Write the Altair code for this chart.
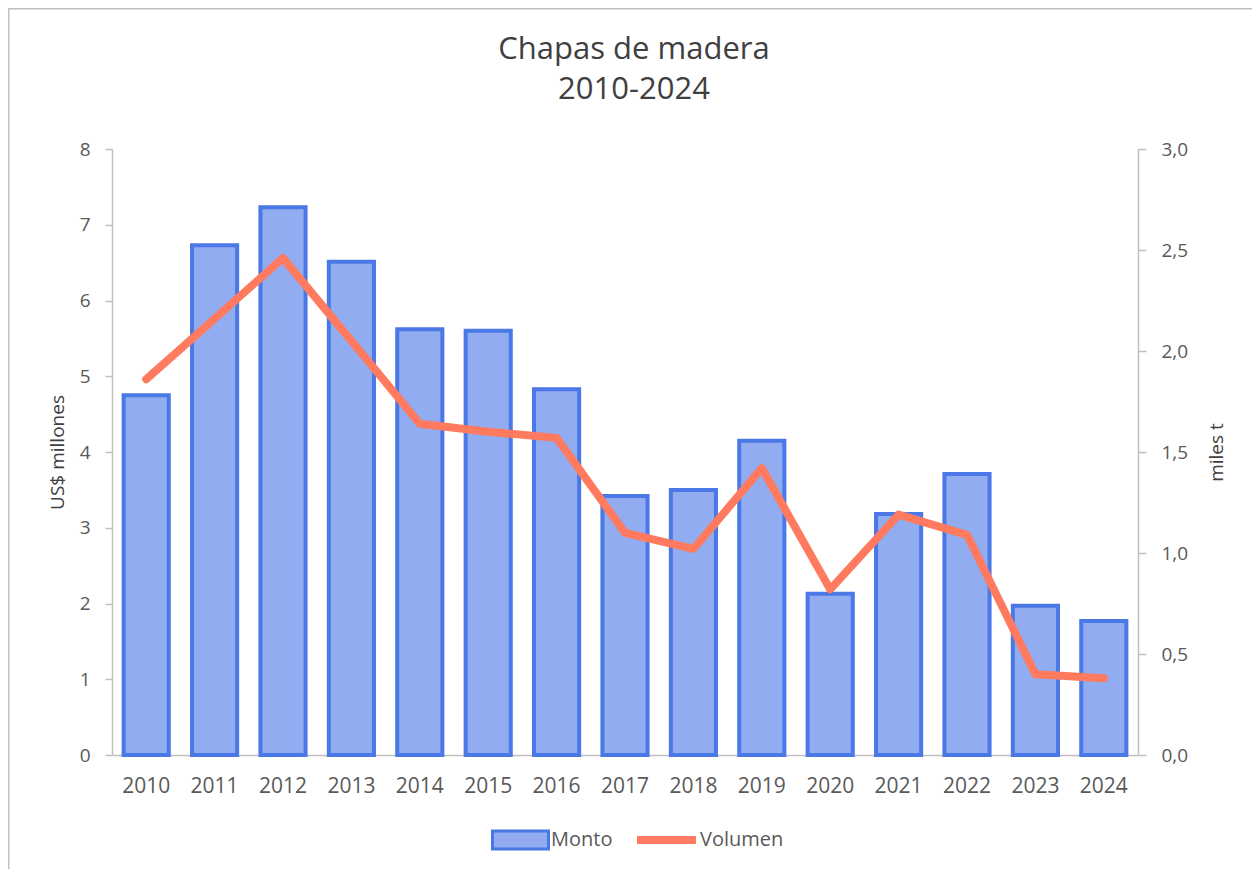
import altair as alt
import pandas as pd

years = [str(y) for y in range(2010, 2025)]
monto = [4.75, 6.73, 7.23, 6.51, 5.62, 5.60, 4.83, 3.42, 3.50, 4.15, 2.13, 3.18, 3.71, 1.97, 1.77]
volumen = [1.86, 2.16, 2.46, 2.05, 1.64, 1.60, 1.57, 1.10, 1.02, 1.42, 0.82, 1.19, 1.09, 0.40, 0.38]
left_ticks = [0, 1, 2, 3, 4, 5, 6, 7, 8]
right_ticks = [0, 0.5, 1.0, 1.5, 2.0, 2.5, 3.0]
title_line1 = "Chapas de madera"
title_line2 = "2010-2024"

df = pd.DataFrame({"year": years, "Monto": monto, "Volumen": volumen,
                   "s1": ["Monto"] * len(years), "s2": ["Volumen"] * len(years)})

FONT = "Open Sans"
GRAY = "#BFBFBF"
TXT = "#595959"

x = alt.X("year:N", sort=years, title=None,
          scale=alt.Scale(paddingInner=0.34, paddingOuter=0.17),
          axis=alt.Axis(labelAngle=0, labelFontSize=21, labelColor=TXT, labelPadding=20,
                        ticks=False, tickSize=0, domainColor=GRAY, domainWidth=1.5,
                        labelFont=FONT, grid=False))

bars = alt.Chart(df).mark_bar(stroke="#4A78E6", strokeWidth=4).encode(
    x=x,
    y=alt.Y("Monto:Q", scale=alt.Scale(domain=[0, 8], nice=False),
            axis=alt.Axis(values=left_ticks, title="US$ millones", grid=False,
                          labelFontSize=19, labelColor=TXT, labelFont=FONT, labelPadding=15,
                          tickSize=7, tickColor=GRAY, tickWidth=1.5, domainColor=GRAY, domainWidth=1.5,
                          titleFont=FONT, titleFontSize=19, titleFontWeight="normal",
                          titleColor="#404040", titlePadding=12)),
    fill=alt.Fill("s1:N", scale=alt.Scale(domain=["Monto"], range=["#91ACF0"]),
                  legend=alt.Legend(title=None, orient="none", legendX=379, legendY=661.5,
                                    symbolType="M-1,-0.32H1V0.32H-1Z", symbolSize=3136,
                                    symbolStrokeColor="#4A78E6", symbolStrokeWidth=3,
                                    labelFont=FONT, labelFontSize=20, labelColor=TXT,
                                    labelOffset=1, padding=0)),
)

line = alt.Chart(df).mark_line(strokeWidth=8, strokeCap="round", strokeJoin="round").encode(
    x=x,
    y=alt.Y("Volumen:Q", scale=alt.Scale(domain=[0, 3], nice=False),
            axis=alt.Axis(orient="right", values=right_ticks, title="miles t", grid=False,
                          labelExpr="replace(format(datum.value, '.1f'), '.', ',')",
                          labelFontSize=19, labelColor=TXT, labelFont=FONT, labelPadding=15,
                          tickSize=8, tickColor=GRAY, tickWidth=1.5, domainColor=GRAY, domainWidth=1.5,
                          titleFont=FONT, titleFontSize=19, titleFontWeight="normal",
                          titleColor="#404040", titlePadding=20, titleAngle=270,
                          titleBaseline="top")),
    stroke=alt.Stroke("s2:N", scale=alt.Scale(domain=["Volumen"], range=["#FF7A5F"]),
                      legend=alt.Legend(title=None, orient="none", legendX=521, legendY=657.5,
                                        symbolType="stroke", symbolSize=3481, symbolStrokeWidth=8,
                                        labelFont=FONT, labelFontSize=20, labelColor=TXT,
                                        labelOffset=0, padding=0)),
)

one = pd.DataFrame({"a": [0]})

t1 = alt.Chart(one).mark_text(
    font=FONT, fontSize=31, color="#404040", align="center", baseline="alphabetic"
).encode(x=alt.value(522), y=alt.value(-90), text=alt.value(title_line1))

t2 = alt.Chart(one).mark_text(
    font=FONT, fontSize=31, color="#404040", align="center", baseline="alphabetic"
).encode(x=alt.value(522), y=alt.value(-50), text=alt.value(title_line2))

border = alt.Chart(one).mark_rect(
    fill="transparent", stroke=GRAY, strokeWidth=1.5
).encode(x=alt.value(-103.25), x2=alt.value(2000), y=alt.value(-140.25), y2=alt.value(2000))

chart = alt.layer(bars, line, t1, t2, border).resolve_scale(
    y="independent", fill="independent", stroke="independent"
).properties(
    width=1026, height=606,
    autosize=alt.AutoSizeParams(type="none"),
    padding={"left": 104, "top": 141, "right": 114, "bottom": 114},
).configure_view(stroke=None)

chart.save("out.html", embed_options={"renderer": "svg", "actions": False})
